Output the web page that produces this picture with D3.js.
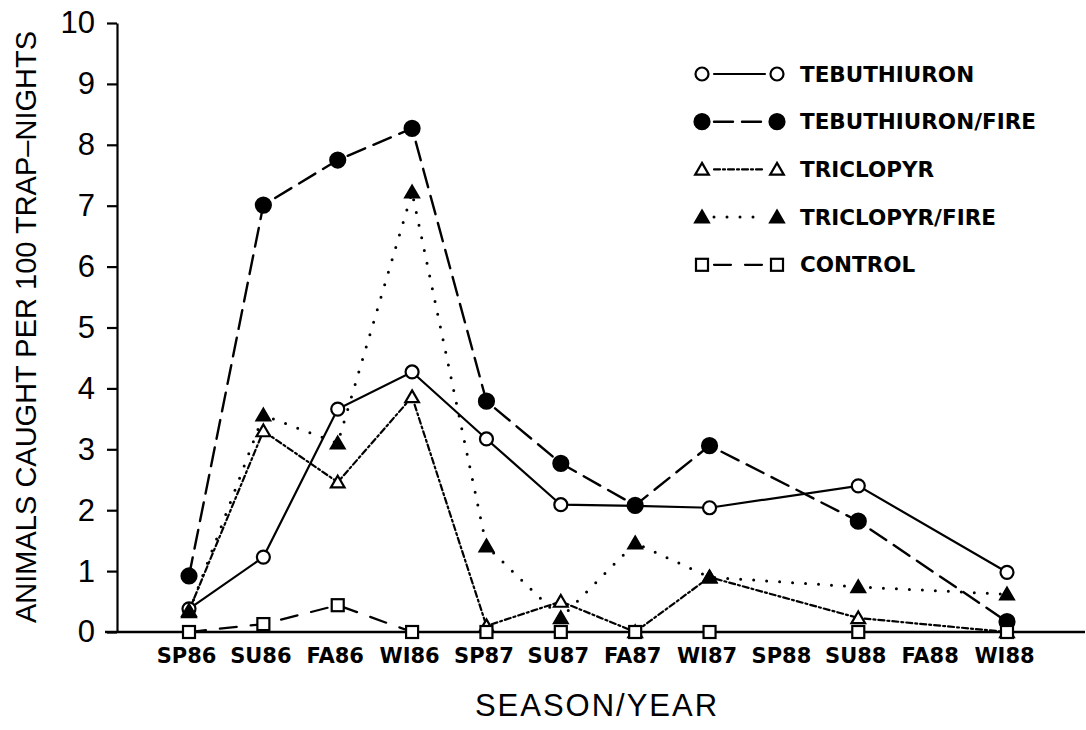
<!DOCTYPE html>
<html>
<head>
<meta charset="utf-8">
<script src="https://cdn.jsdelivr.net/npm/d3@7"></script>
<style>
  body { margin: 0; background: #fff; }
  svg { display: block; }
</style>
</head>
<body>
<svg id="canvas" width="1086" height="730"></svg>
<script>
let seasons = ["SP86", "SU86", "FA86", "WI86", "SP87", "SU87", "FA87", "WI87", "SP88", "SU88", "FA88", "WI88"]

let tebuthiuron     = [0.38, 1.23, 3.66, 4.27, 3.17, 2.09, 2.07, 2.04, null, 2.40, null, 0.98]
let tebuthiuronFire = [0.92, 7.01, 7.75, 8.27, 3.79, 2.77, 2.08, 3.06, null, 1.82, null, 0.17]
let triclopyr       = [0.35, 3.30, 2.46, 3.86, 0.10, 0.50, 0.00, 0.90, null, 0.23, null, 0.00]
let triclopyrFire   = [0.33, 3.56, 3.10, 7.22, 1.41, 0.23, 1.46, 0.90, null, 0.74, null, 0.62]
let control         = [0.00, 0.13, 0.44, 0.00, 0.00, 0.00, 0.00, 0.00, null, 0.00, null, 0.00]

let yTicks = [0, 1, 2, 3, 4, 5, 6, 7, 8, 9, 10]

let seriesNames = ["TEBUTHIURON", "TEBUTHIURON/FIRE", "TRICLOPYR", "TRICLOPYR/FIRE", "CONTROL"]

let series = [
    { name: seriesNames[0], values: tebuthiuron, marker: "circle", filled: false, dash: null, width: 2.2 },
    { name: seriesNames[1], values: tebuthiuronFire, marker: "circle", filled: true, dash: "19,9", width: 2.4 },
    { name: seriesNames[2], values: triclopyr, marker: "triangle", filled: false, dash: "6,3,2,3", width: 2.2 },
    { name: seriesNames[3], values: triclopyrFire, marker: "triangle", filled: true, dash: "0,13", width: 3 },
    { name: seriesNames[4], values: control, marker: "square", filled: false, dash: "17,14", width: 2.2 }
]

let canvas = d3.select("#canvas")

let xScale = d3.scalePoint()
    .domain(seasons)
    .range([189, 1007])

let yScale = d3.scaleLinear()
    .domain([0, 10])
    .range([632, 23])

let axisX = 117

// y axis
let yAxis = canvas.append("g")
    .attr("transform", "translate(" + axisX + ",0)")
    .call(d3.axisLeft(yScale)
        .tickValues(yTicks)
        .tickSize(10)
        .tickSizeOuter(0)
        .tickPadding(12)
        .tickFormat(d3.format("d")))

yAxis.select(".domain").attr("stroke", "#000").attr("stroke-width", 2.2)
yAxis.selectAll(".tick line").attr("stroke", "#000").attr("stroke-width", 2.2)
yAxis.selectAll(".tick text")
    .style("font-family", "Liberation Sans, Arial, sans-serif")
    .style("font-size", "31px")
    .attr("fill", "#000")

// x axis
let xAxis = canvas.append("g")
    .attr("transform", "translate(0," + yScale(0) + ")")
    .call(d3.axisBottom(xScale).tickSize(0))

xAxis.select(".domain").remove()
xAxis.append("line")
    .attr("x1", axisX - 12)
    .attr("x2", 1085)
    .attr("stroke", "#000")
    .attr("stroke-width", 2.4)
xAxis.selectAll(".tick text")
    .attr("y", 31)
    .attr("dy", 0)
    .attr("dx", -3)
    .style("font-family", "DejaVu Sans, sans-serif")
    .style("font-weight", "bold")
    .style("font-size", "21px")
    .attr("fill", "#000")

// axis titles
canvas.append("text")
    .attr("transform", "translate(36,327) rotate(-90)")
    .attr("text-anchor", "middle")
    .style("font-family", "Liberation Sans, Arial, sans-serif")
    .style("font-size", "29px")
    .text("ANIMALS CAUGHT PER 100 TRAP\u2013NIGHTS")

canvas.append("text")
    .attr("x", 597)
    .attr("y", 716)
    .attr("text-anchor", "middle")
    .style("font-family", "Liberation Sans, Arial, sans-serif")
    .style("font-size", "31px")
    .style("letter-spacing", "2px")
    .text("SEASON/YEAR")

let drawMarker = (sel, s, x, y) => {
    let fill = s.filled ? "#000" : "#fff"
    if (s.marker === "circle") {
        sel.append("circle")
            .attr("cx", x).attr("cy", y)
            .attr("r", s.filled ? 7.5 : 6.5)
            .attr("fill", fill).attr("stroke", "#000").attr("stroke-width", 2.2)
    } else if (s.marker === "triangle") {
        let h = 6.5
        sel.append("path")
            .attr("d", "M" + x + "," + (y - h) + "L" + (x + h * 1.05) + "," + (y + h * 0.8) + "L" + (x - h * 1.05) + "," + (y + h * 0.8) + "Z")
            .attr("fill", fill).attr("stroke", "#000").attr("stroke-width", 2.2)
            .attr("stroke-linejoin", "miter")
    } else {
        sel.append("rect")
            .attr("x", x - 6).attr("y", y - 6)
            .attr("width", 12).attr("height", 12)
            .attr("fill", fill).attr("stroke", "#000").attr("stroke-width", 2.2)
    }
}

let lineData = (values) => {
    // skip the missing seasons so the line joins the neighbours
    let pts = []
    values.forEach((v, i) => { if (v !== null) pts.push([xScale(seasons[i]), yScale(v)]) })
    return pts
}

let plot = canvas.append("g")

series.forEach((s) => {
    plot.append("path")
        .attr("d", d3.line()(lineData(s.values)))
        .attr("fill", "none")
        .attr("stroke", "#000")
        .attr("stroke-width", s.width)
        .attr("stroke-dasharray", s.dash)
        .attr("stroke-linecap", "round")
})

series.forEach((s) => {
    let g = plot.append("g")
    s.values.forEach((v, i) => {
        if (v !== null) drawMarker(g, s, xScale(seasons[i]), yScale(v))
    })
})

// legend
let legend = canvas.append("g")

series.forEach((s, i) => {
    let y = 74 + i * 47.7
    let g = legend.append("g")
    g.append("line")
        .attr("x1", 714).attr("x2", 765)
        .attr("y1", y).attr("y2", y)
        .attr("stroke", "#000")
        .attr("stroke-width", s.width)
        .attr("stroke-dasharray", s.dash)
        .attr("stroke-linecap", "round")
    drawMarker(g, s, 702, y)
    drawMarker(g, s, 777, y)
    g.append("text")
        .attr("x", 800)
        .attr("y", y + 7.5)
        .style("font-family", "DejaVu Sans, sans-serif")
        .style("font-weight", "bold")
        .style("font-size", "21.5px")
        .text(s.name)
})
</script>
</body>
</html>
